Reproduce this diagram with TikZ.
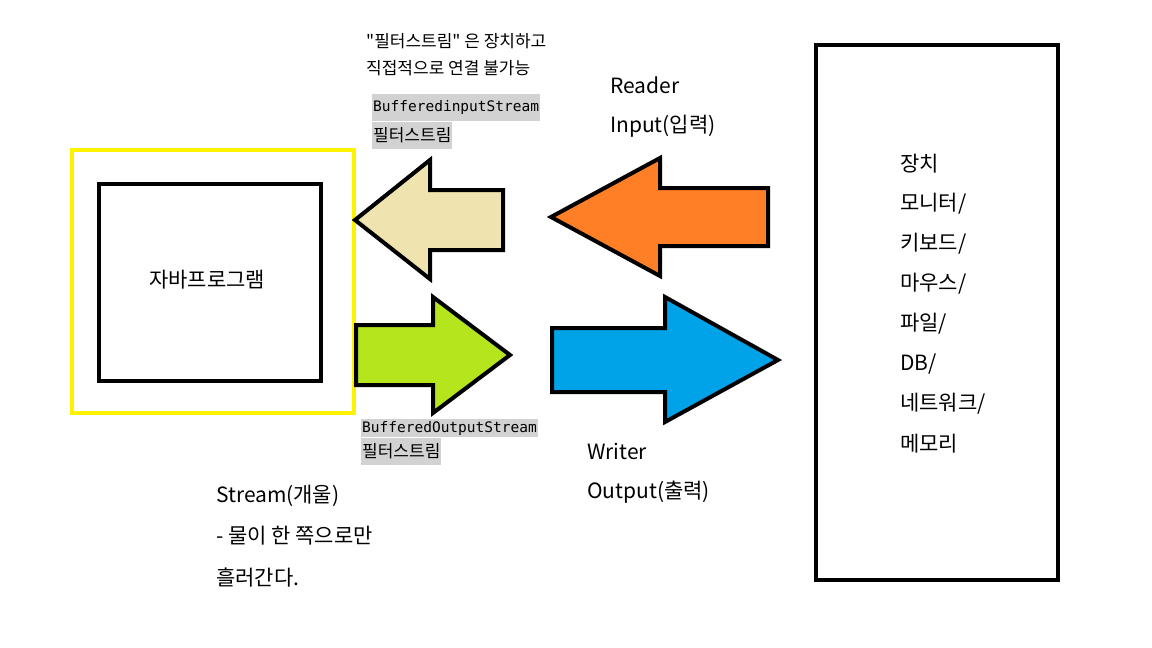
\documentclass[tikz,border=0pt]{standalone}
\usepackage{fontspec}
\setmainfont{Noto Sans CJK KR}
\setmonofont{DejaVu Sans Mono}
\definecolor{paintbeige}{RGB}{239,228,176}
\definecolor{paintorange}{RGB}{255,127,39}
\definecolor{paintgreen}{RGB}{181,230,29}
\definecolor{paintblue}{RGB}{0,162,232}
\definecolor{paintyellow}{RGB}{255,242,0}
\tikzset{
    bigarrow/.style={draw=black, line width=4pt, line join=miter},
    lbl/.style={anchor=west, inner sep=0pt, font=\fontsize{21}{24}\selectfont},
    smalllbl/.style={anchor=west, inner sep=0pt, font=\fontsize{17}{20}\selectfont},
    graylbl/.style={anchor=north west, fill=gray!35, inner xsep=1pt, inner ysep=0pt,
        font=\fontsize{17}{20}\selectfont},
    monolbl/.style={graylbl, font=\fontsize{14.5}{17}\ttfamily}
}
\begin{document}
\begin{tikzpicture}[x=1pt, y=-1pt]
            \useasboundingbox (0, 0) rectangle (1152, 648);

            % program side
            \draw[paintyellow, line width=4pt] (72, 150) rectangle (354, 413);
            \draw[line width=4pt] (99, 184) rectangle (321, 381);
            \node[lbl] (prog) at (149, 280) {자바프로그램};

            % device side
            \draw[line width=4pt] (816, 45) rectangle (1058, 580);
            \foreach \txt [count=\i] in {장치, 모니터/, 키보드/, 마우스/, 파일/, DB/, 네트워크/, 메모리}
                \node[lbl] (dev\i) at (900, 124 + 40*\i) {\txt};

            % input arrows
            \draw[bigarrow, fill=paintbeige] (355, 220) -- (430, 160) -- (430, 190) -- (503, 190)
                -- (503, 250) -- (430, 250) -- (430, 279) -- cycle;
            \draw[bigarrow, fill=paintorange] (551, 217) -- (660, 158) -- (660, 188) -- (768, 188)
                -- (768, 246) -- (660, 246) -- (660, 276) -- cycle;

            % output arrows
            \draw[bigarrow, fill=paintgreen] (356, 325) -- (433, 325) -- (433, 297) -- (510, 355)
                -- (433, 413) -- (433, 385) -- (356, 385) -- cycle;
            \draw[bigarrow, fill=paintblue] (552, 328) -- (665, 328) -- (665, 297) -- (778, 360)
                -- (665, 422) -- (665, 392) -- (552, 392) -- cycle;

            % labels
            \node[smalllbl] (note1) at (366, 41) {\textquotedbl 필터스트림\textquotedbl{} 은 장치하고};
            \node[smalllbl] (note2) at (366, 68) {직접적으로 연결 불가능};

            \node[monolbl, minimum height=27pt] (bis) at (372, 94) {BufferedinputStream};
            \node[graylbl, minimum height=27pt] (bisf) at (bis.south west) {필터스트림};
            \node[lbl] (reader) at (610, 85) {Reader};
            \node[lbl] (input) at (610, 126) {Input(입력)};

            \node[monolbl, minimum height=18pt] (bos) at (361, 419) {BufferedOutputStream};
            \node[graylbl, minimum height=27pt] (bosf) at (bos.south west) {필터스트림};
            \node[lbl] (writer) at (587, 451) {Writer};
            \node[lbl] (output) at (587, 492) {Output(출력)};

            \node[lbl] (stream1) at (216, 496) {Stream(개울)};
            \node[lbl] (stream2) at (216, 536) {- 물이 한 쪽으로만};
            \node[lbl] (stream3) at (216, 577) {흘러간다.};
        \end{tikzpicture}
\end{document}
